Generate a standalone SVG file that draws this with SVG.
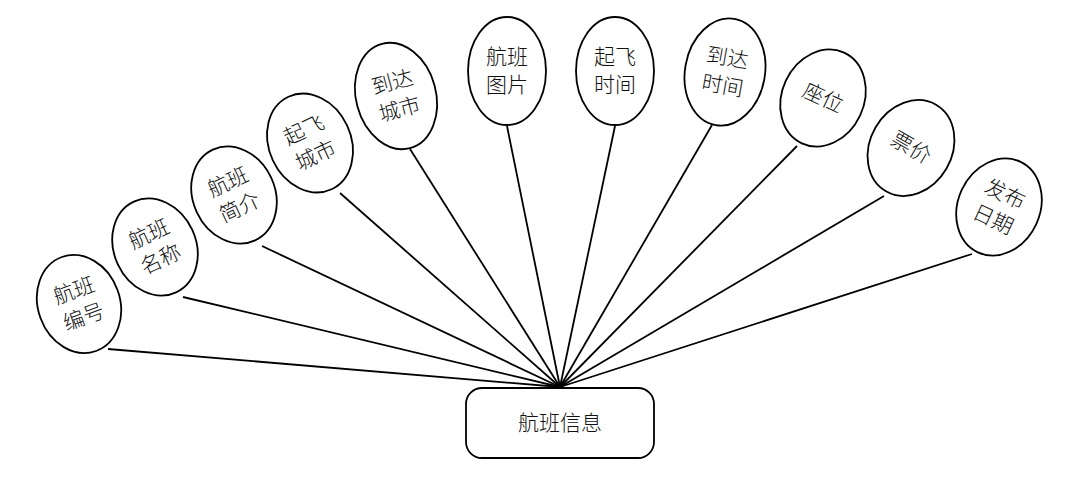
<svg xmlns="http://www.w3.org/2000/svg" width="1086" height="488" viewBox="0 0 1086 488">
<style>
.e{fill:#fff;stroke:#000;stroke-width:1.8}
.t{font-family:"Liberation Serif","Noto Sans CJK SC",serif;font-size:21px;font-weight:300;fill:#111;text-anchor:middle;dominant-baseline:central}
.c{stroke:#000;stroke-width:1.8;fill:none}
</style>
<rect width="1086" height="488" fill="#fff"/>
<g id="connectors">
<line class="c" x1="560" y1="387" x2="108" y2="349"/>
<line class="c" x1="560" y1="387" x2="183" y2="297"/>
<line class="c" x1="560" y1="387" x2="262" y2="246"/>
<line class="c" x1="560" y1="387" x2="340" y2="193"/>
<line class="c" x1="560" y1="387" x2="410" y2="149"/>
<line class="c" x1="560" y1="387" x2="507" y2="126"/>
<line class="c" x1="560" y1="387" x2="615" y2="126"/>
<line class="c" x1="560" y1="387" x2="712" y2="125"/>
<line class="c" x1="560" y1="387" x2="797" y2="146"/>
<line class="c" x1="560" y1="387" x2="884" y2="196"/>
<line class="c" x1="560" y1="387" x2="972" y2="254"/>
</g>
<g id="n1" transform="translate(79,304) rotate(-20)"><ellipse class="e" rx="41" ry="50"/><text class="t" y="-14">航班</text><text class="t" y="14">编号</text></g>
<g id="n2" transform="translate(155,247) rotate(-25)"><ellipse class="e" rx="41" ry="50"/><text class="t" y="-14">航班</text><text class="t" y="14">名称</text></g>
<g id="n3" transform="translate(234,195) rotate(-25)"><ellipse class="e" rx="41" ry="50"/><text class="t" y="-14">航班</text><text class="t" y="14">简介</text></g>
<g id="n4" transform="translate(310,143) rotate(-25)"><ellipse class="e" rx="41" ry="51"/><text class="t" y="-14">起飞</text><text class="t" y="14">城市</text></g>
<g id="n5" transform="translate(396,96) rotate(-15)"><ellipse class="e" rx="40" ry="54"/><text class="t" y="-14">到达</text><text class="t" y="14">城市</text></g>
<g id="n6" transform="translate(507,71)"><ellipse class="e" rx="39" ry="54"/><text class="t" y="-14">航班</text><text class="t" y="14">图片</text></g>
<g id="n7" transform="translate(615,71)"><ellipse class="e" rx="39" ry="54"/><text class="t" y="-14">起飞</text><text class="t" y="14">时间</text></g>
<g id="n8" transform="translate(725,72) rotate(10)"><ellipse class="e" rx="40" ry="54"/><text class="t" y="-14">到达</text><text class="t" y="14">时间</text></g>
<g id="n9" transform="translate(823,98) rotate(25)"><ellipse class="e" rx="41" ry="50"/><text class="t">座位</text></g>
<g id="n10" transform="translate(911,148) rotate(30)"><ellipse class="e" rx="41" ry="50"/><text class="t">票价</text></g>
<g id="n11" transform="translate(999,207) rotate(25)"><ellipse class="e" rx="41" ry="50"/><text class="t" y="-14">发布</text><text class="t" y="14">日期</text></g>
<g id="main"><rect class="e" x="466" y="388" width="188" height="70" rx="16"/><text class="t" x="560" y="423">航班信息</text></g>
</svg>
